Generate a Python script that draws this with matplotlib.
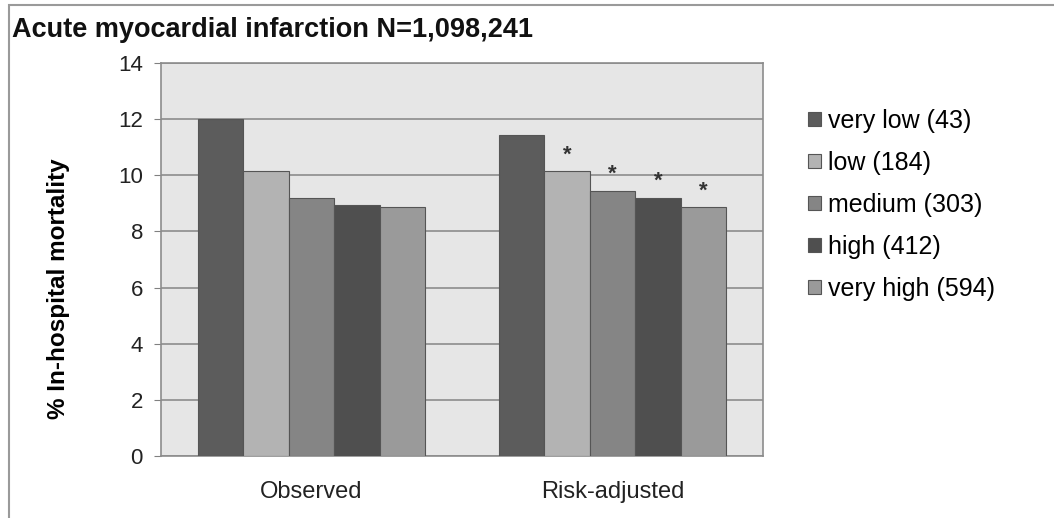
import numpy as np
import matplotlib.pyplot as plt
from matplotlib.patches import Rectangle

plt.rcParams['font.family'] = ['Liberation Sans', 'DejaVu Sans']

groups = ["Observed", "Risk-adjusted"]
series = ["very low (43)", "low (184)", "medium (303)", "high (412)", "very high (594)"]
observed = [12.0, 10.15, 9.2, 8.95, 8.87]
adjusted = [11.45, 10.15, 9.45, 9.2, 8.87]
significant = [False, True, True, True, True]
colors = ["#5c5c5c", "#b3b3b3", "#858585", "#4f4f4f", "#9a9a9a"]

fig = plt.figure(figsize=(10.54, 5.18), dpi=100)
# plot area roughly x 161..763, y 63..456 px
ax = fig.add_axes([161 / 1054, 1 - 456 / 518, 602 / 1054, 393 / 518])
ax.set_facecolor("#e6e6e6")

values = np.array([observed, adjusted])
x = np.arange(len(groups))
width = 0.151
for i, name in enumerate(series):
    pos = x + (i - 2) * width
    ax.bar(pos, values[:, i], width, color=colors[i], edgecolor="#555555",
           linewidth=0.8, label=name, zorder=3)
    if significant[i]:
        ax.text(pos[1], values[1, i] + 0.2, "*", ha="center", va="bottom",
                fontsize=16, fontweight="bold", color="#333333", zorder=4)

ax.set_xlim(-0.5, 1.5)
ax.set_ylim(0, 14)
ax.set_yticks(range(0, 15, 2))
ax.set_xticks(x)
ax.set_xticklabels(groups, fontsize=17, color="#222222")
ax.tick_params(axis="y", labelsize=16, colors="#222222", length=5, color="#808080", pad=8)
ax.tick_params(axis="x", length=0, pad=18)
ax.grid(axis="y", color="#8c8c8c", linewidth=1.2, zorder=1)
for s in ax.spines.values():
    s.set_color("#8c8c8c")
    s.set_linewidth(1.2)

ax.set_ylabel("% In-hospital mortality", fontsize=17.5, fontweight="bold")
ax.yaxis.set_label_coords(-0.151, 0.425)

fig.text(12 / 1054, 1 - 30 / 518, "Acute myocardial infarction N=1,098,241", fontsize=19.5,
         fontweight="bold", va="center", ha="left", color="#111111")

ax.legend(loc="upper left", bbox_to_anchor=(1.038, 0.94), frameon=False,
          fontsize=18, handlelength=0.5, handleheight=0.5, handletextpad=0.3,
          labelspacing=0.72)

fig.patches.append(Rectangle((9 / 1054, -0.01), 1.0, 1 - 5 / 518 + 0.01, transform=fig.transFigure,
                             fill=False, edgecolor="#9a9a9a", linewidth=1.5))

fig.savefig("out.png", dpi=100)
